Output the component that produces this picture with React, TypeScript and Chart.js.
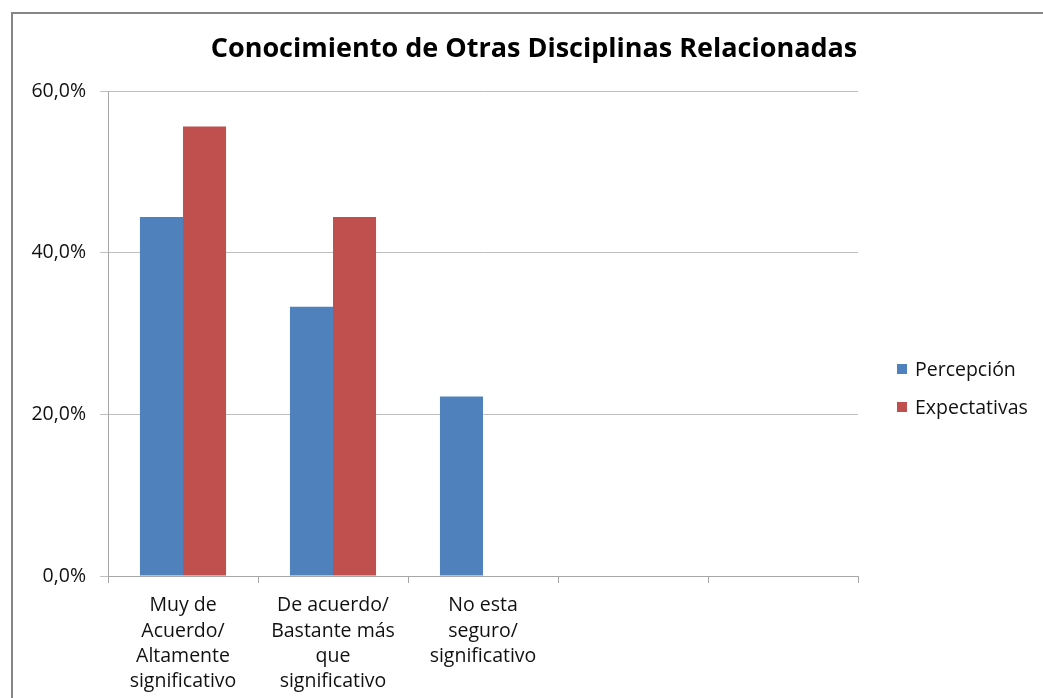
import React, { useEffect, useRef } from "react";
import { Chart, registerables } from "chart.js";

Chart.register(...registerables);

const categories: (string | string[])[] = [
  ["Muy de", "Acuerdo/", "Altamente", "significativo"],
  ["De acuerdo/", "Bastante más", "que", "significativo"],
  ["No esta", "seguro/", "significativo"],
  "",
  "",
];
const percepcion: (number | null)[] = [44.4, 33.3, 22.2, null, null];
const expectativas: (number | null)[] = [55.6, 44.4, 0, null, null];
const seriesNames = ["Percepción", "Expectativas"];
const seriesColors = ["#4F81BD", "#C0504D"];
const yTicks = [0, 20, 40, 60];
const titleText = "Conocimiento de Otras Disciplinas Relacionadas";

const FONT = "'Open Sans', Lato, sans-serif";

const decorPlugin = {
  id: "decor",
  beforeDraw(chart: any) {
    const ctx = chart.ctx;
    ctx.save();
    ctx.fillStyle = "#ffffff";
    ctx.fillRect(0, 0, chart.width, chart.height);
    ctx.strokeStyle = "#868686";
    ctx.lineWidth = 2;
    ctx.beginPath();
    ctx.moveTo(chart.width + 5, 13);
    ctx.lineTo(12, 13);
    ctx.lineTo(12, chart.height + 5);
    ctx.stroke();
    ctx.restore();
  },
  afterDraw(chart: any) {
    const ctx = chart.ctx;
    ctx.save();
    // title
    ctx.fillStyle = "#000000";
    ctx.font = `bold 27px ${FONT}`;
    ctx.textAlign = "center";
    ctx.textBaseline = "middle";
    ctx.fillText(titleText, 534, 49);
    // legend
    ctx.font = `19.5px ${FONT}`;
    ctx.textAlign = "left";
    const ys = [369, 407];
    chart.data.datasets.forEach((ds: any, i: number) => {
      const y = ys[i];
      ctx.fillStyle = ds.backgroundColor;
      ctx.fillRect(897, y - 5, 10, 10);
      ctx.fillStyle = "#111111";
      ctx.fillText(ds.label, 915, y + 1);
    });
    ctx.restore();
  },
};

export default function App() {
  const ref = useRef<HTMLCanvasElement>(null);
  useEffect(() => {
    if (!ref.current) return;
    const chart = new Chart(ref.current, {
      type: "bar",
      data: {
        labels: categories,
        datasets: [
          {
            label: seriesNames[0],
            data: percepcion,
            backgroundColor: seriesColors[0],
            borderWidth: 0,
          },
          {
            label: seriesNames[1],
            data: expectativas,
            backgroundColor: seriesColors[1],
            borderWidth: 0,
          },
        ],
      },
      options: {
        responsive: false,
        animation: false,
        devicePixelRatio: 1,
        layout: { padding: { left: 0, right: 185, top: 91, bottom: 0 } },
        plugins: {
          legend: { display: false },
          title: { display: false },
          tooltip: { enabled: false },
        },
        datasets: {
          bar: { categoryPercentage: 0.574, barPercentage: 1 },
        },
        scales: {
          x: {
            grid: {
              display: true,
              offset: true,
              drawOnChartArea: false,
              drawTicks: true,
              tickLength: 7,
              color: "#a6a6a6",
            },
            border: { display: true, color: "#a6a6a6", width: 1 },
            ticks: {
              color: "#111111",
              font: { family: FONT, size: 19.5, lineHeight: 1.3 },
              padding: 10,
              maxRotation: 0,
              autoSkip: false,
            },
            afterFit(scale: any) {
              scale.height = 122;
            },
          },
          y: {
            min: 0,
            max: 60,
            afterBuildTicks(scale: any) {
              scale.ticks = yTicks.map((v) => ({ value: v }));
            },
            grid: {
              color: "#bfbfbf",
              drawTicks: true,
              tickLength: 8,
            },
            border: { display: true, color: "#a6a6a6", width: 1 },
            ticks: {
              color: "#111111",
              font: { family: FONT, size: 19.5 },
              padding: 14,
              callback: (v: any) => Number(v).toFixed(1).replace(".", ",") + "%",
            },
            afterFit(scale: any) {
              scale.width = 108;
            },
          },
        },
      },
      plugins: [decorPlugin],
    });
    return () => chart.destroy();
  }, []);
  return (
    <div
      style={{
        position: "fixed",
        left: 0,
        top: 0,
        width: 1043,
        height: 698,
        overflow: "hidden",
        background: "#fff",
      }}
    >
      <canvas ref={ref} width={1043} height={698} style={{ display: "block" }} />
    </div>
  );
}
